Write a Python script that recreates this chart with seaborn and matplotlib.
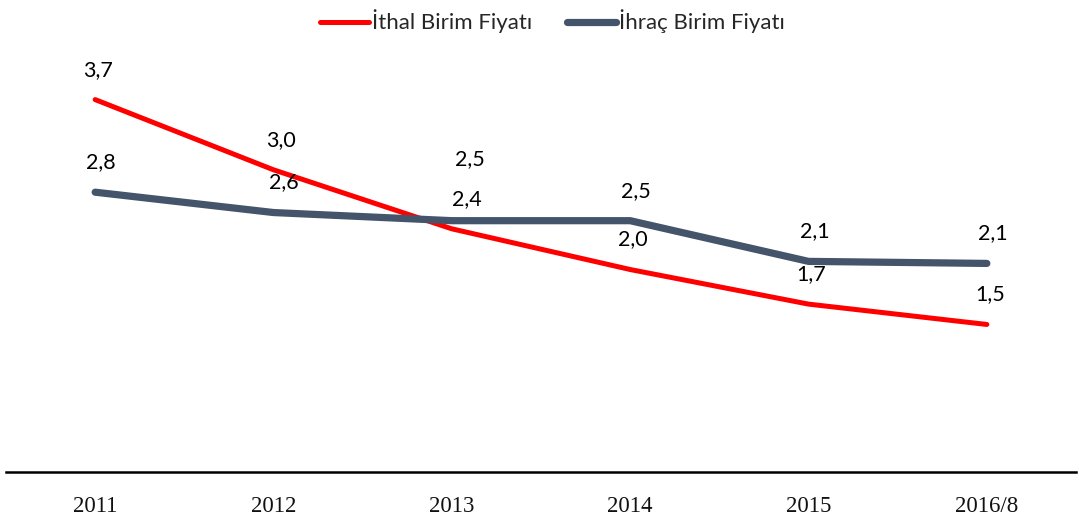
import pandas as pd
import matplotlib
matplotlib.use('Agg')
import matplotlib.pyplot as plt
import seaborn as sns

years = ['2011', '2012', '2013', '2014', '2015', '2016/8']
ithal = [3.71, 3.02, 2.44, 2.04, 1.70, 1.50]
ihrac = [2.80, 2.60, 2.52, 2.52, 2.12, 2.10]
series_names = ['İthal Birim Fiyatı', 'İhraç Birim Fiyatı']

df = pd.DataFrame({
    'Yıl': years * 2,
    'Değer': ithal + ihrac,
    'Seri': [series_names[0]] * len(years) + [series_names[1]] * len(years),
})

palette = {series_names[0]: '#FF0000', series_names[1]: '#44546A'}
widths = {series_names[0]: 3.6, series_names[1]: 5.2}

sns.set_style('white')
plt.rcParams['font.family'] = ['Lato', 'DejaVu Sans']

fig = plt.figure(figsize=(10.79, 5.2), dpi=100)
ax = fig.add_axes([6 / 1079, 48 / 520, 1070 / 1079, 407 / 520])

sns.lineplot(data=df, x='Yıl', y='Değer', hue='Seri', hue_order=series_names,
             palette=palette, sort=False, legend=False, ax=ax)

for line, name in zip(ax.lines, series_names):
    line.set_linewidth(widths[name])
    line.set_solid_capstyle('round')
    line.set_solid_joinstyle('round')

ax.set_xlim(-0.5, len(years) - 0.5)
ax.set_ylim(0.05, 4.05)

# veri etiketleri (kaydırmalar piksel cinsinden)
label_dx = [3, 7, 15, 3, 3, 3]
for i, v in enumerate(ithal):
    ax.annotate(f'{v:.1f}'.replace('.', ','), (i, v), xytext=(label_dx[i], 30),
                textcoords='offset pixels', ha='center', va='center',
                fontsize=15.5, color='black')
for i, v in enumerate(ihrac):
    dy = 62 if i == 2 else 30
    ax.annotate(f'{v:.1f}'.replace('.', ','), (i, v), xytext=(label_dx[i] + 3, dy),
                textcoords='offset pixels', ha='center', va='center',
                fontsize=15.5, color='black')

for side in ['top', 'right', 'left']:
    ax.spines[side].set_visible(False)
ax.spines['bottom'].set_color('black')
ax.spines['bottom'].set_linewidth(1.8)

ax.set_yticks([])
ax.set_xlabel('')
ax.set_ylabel('')
ax.tick_params(axis='x', length=0, pad=17)
for lbl in ax.get_xticklabels():
    lbl.set_fontfamily('Liberation Serif')
    lbl.set_fontsize(16.5)
    lbl.set_color('#111111')

fig.legend(ax.lines, series_names, loc='upper center', bbox_to_anchor=(0.512, 1.02),
           ncol=2, frameon=False, fontsize=16, handlelength=2.2,
           handletextpad=0.1, columnspacing=1.6)

fig.savefig('out.png', dpi=100)
plt.close(fig)
